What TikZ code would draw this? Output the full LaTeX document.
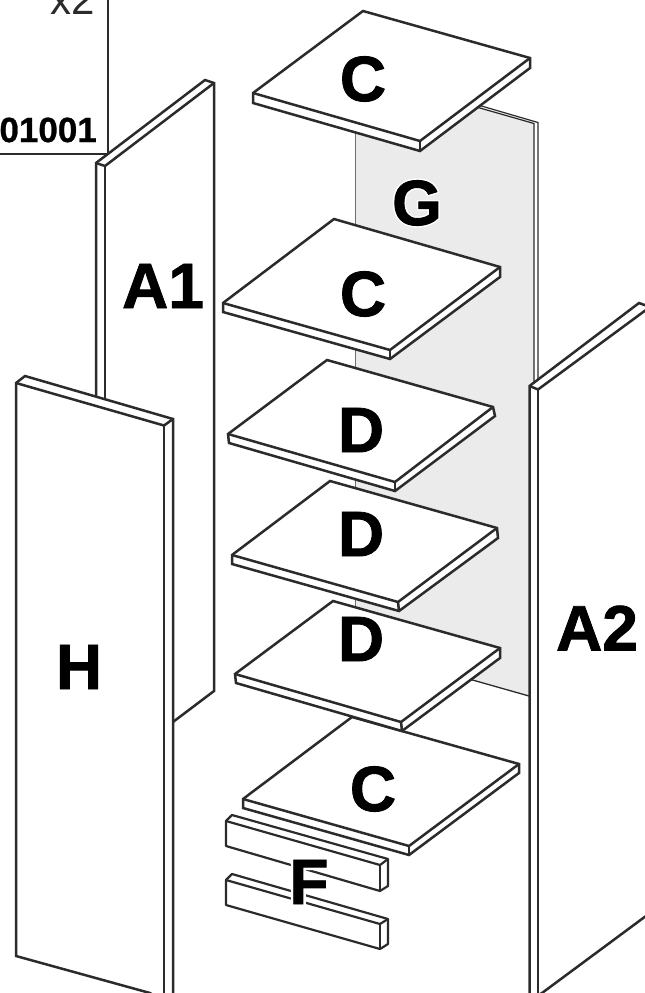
\documentclass[tikz,border=0pt]{standalone}
\usepackage{fontspec}
\setmainfont{Liberation Sans}
\newfontfamily\halofontF[FakeBold=9]{Liberation Sans Bold}
\newfontfamily\halofontG[FakeBold=6]{Liberation Sans Bold}
\newfontfamily\labelfont[FakeBold=1.3]{Liberation Sans Bold}
\newfontfamily\numberfont[FakeBold=0.8]{Liberation Sans Bold}
\definecolor{ink}{HTML}{2B2B2B}
\definecolor{panelgrey}{HTML}{EBEBEB}
\definecolor{edgegrey}{HTML}{6E6E6E}
\tikzset{
  x=1pt,y=-1pt,
  solid part/.style={draw=ink,line width=2.5pt,line join=miter,fill=white},
  edge line/.style={draw=ink,line width=2.5pt},
  bar part/.style={draw=ink,line width=2.2pt,line join=round,fill=white},
  part label/.style={inner sep=0pt,text=black,font=\fontsize{64}{64}\selectfont\labelfont},
  box line/.style={draw=ink,line width=1.8pt},
  box number/.style={inner sep=0pt,text=black,font=\fontsize{35}{35}\selectfont\numberfont},
  box count/.style={inner sep=0pt,text=ink,font=\fontsize{42}{42}\selectfont},
}
% back, right, right low, front, front low, left, left low
\newcommand{\shelfboard}[7]{%
  \path[solid part] #1 -- #2 -- #3 -- #5 -- #7 -- #6 -- cycle;
  \draw[edge line,line join=miter] #6 -- #4 -- #2;
  \draw[edge line] #4 -- #5;
}
% back-left, left, left low, right low, back-right low, back-right, right top
\newcommand{\barboard}[7]{%
  \path[bar part] #1 -- #6 -- #5 -- #4 -- #3 -- #2 -- cycle;
  \draw[bar part,fill=none] #2 -- #7 -- #6;
  \draw[bar part,fill=none] #7 -- #4;
}
\begin{document}
\begin{tikzpicture}
\useasboundingbox (0,0) rectangle (645,993);
\clip (0,0) rectangle (645,993);
% label box
\coordinate (boxtop) at (108,-2);
\coordinate (boxcorner) at (108,154);
\coordinate (boxleft) at (-2,154);
\draw[box line] (boxtop) -- (boxcorner) -- (boxleft);
\node[box count,anchor=base east] (count) at (95,14) {x2};
\node[box number,anchor=east] (number) at (97,130) {01001};
% back panel G
\fill[panelgrey] (356,70) -- (478,106) -- (534,122) -- (534,400) -- (529,400) -- (529,696) -- (356,647) -- cycle;
\draw[edgegrey,line width=1.3pt] (355.5,70) -- (355.5,650);
\draw[ink,line width=1.2pt] (478,105) -- (538,122.5) -- (538,400);
\draw[ink,line width=1.2pt] (478,107.5) -- (534,123.5) -- (534,400);
\draw[ink,line width=1.3pt] (356,647) -- (529,696);
% side panel A1
\path[solid part] (96,163) -- (205,80) -- (214,83) -- (214,691) -- (173,722) -- (96,722) -- cycle;
\draw[edge line] (96,163) -- (105,166) -- (214,83);
\draw[edge line] (105,166) -- (105,722);
% side panel A2
\path[solid part] (529.5,386) -- (639,303) -- (650,307) -- (650,913) -- (542,993) -- (529.5,1000) -- cycle;
\draw[edge line] (529.5,386) -- (538,389.5) -- (650,307);
\draw[edge line] (538,389.5) -- (538,1000);
% panel H
\path[solid part] (25,376) -- (173,419) -- (173,1000) -- (160,1000) -- (150,993) -- (16,956) -- (16,383) -- cycle;
\draw[edge line] (16,383) -- (164,425.5) -- (173,419);
\draw[edge line] (164,425.5) -- (164,1000);
% shelves, lowest first
\shelfboard{(352,717)}{(519,764)}{(519,773)}{(409,846)}{(409,855)}{(243,799)}{(243,808)}
\shelfboard{(333,601)}{(500,648)}{(500,658)}{(401,722)}{(402,731)}{(235,674)}{(236,683)}
\shelfboard{(330,481)}{(497,528)}{(498,538)}{(398,602)}{(399,611)}{(232,555)}{(232,564)}
\shelfboard{(327,360)}{(493,407)}{(495,416)}{(395,482)}{(395,491)}{(228,434)}{(229,443)}
\shelfboard{(334,219)}{(500,267)}{(500,277)}{(390,350)}{(390,359)}{(223,303)}{(223,312)}
\shelfboard{(363,11)}{(530,58)}{(530,68)}{(420,141)}{(420,151)}{(253,93)}{(253,103)}
% bars F
\barboard{(232,815)}{(226,821)}{(226,846)}{(380,891)}{(388,886)}{(388,859)}{(380,865)}
\barboard{(232,874)}{(226,880)}{(226,905)}{(380,949)}{(388,944)}{(388,919)}{(380,924)}
% labels
\node[part label] (labelCone) at (363,79) {C};
\node[inner sep=0pt,text=white,font=\fontsize{64}{64}\selectfont\halofontG] (haloG) at (417,203) {G};
\node[part label] (labelG) at (417,203) {G};
\node[part label] (labelCtwo) at (363,294) {C};
\node[part label] (labelDone) at (361,430) {D};
\node[part label] (labelDtwo) at (361,534) {D};
\node[part label] (labelDthree) at (361,639) {D};
\node[part label] (labelCthree) at (373,789) {C};
\node[inner sep=0pt,text=white,font=\fontsize{64}{64}\selectfont\halofontF] (haloF) at (309,882) {F};
\node[part label] (labelF) at (309,882) {F};
\node[part label] (labelH) at (79,667) {H};
\node[part label] (labelAone) at (163,286) {A1};
\node[part label] (labelAtwo) at (597,628) {A2};
\end{tikzpicture}
\end{document}
